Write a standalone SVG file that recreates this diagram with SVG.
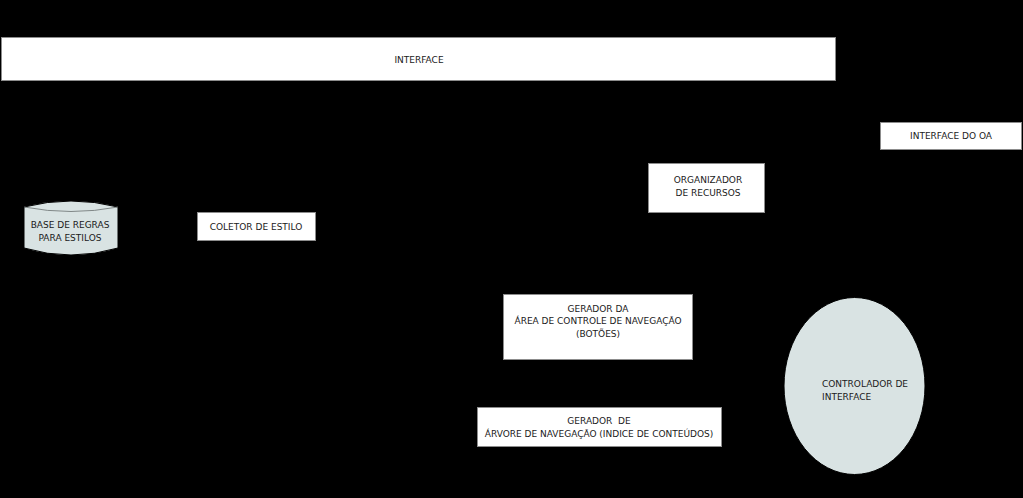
<svg xmlns="http://www.w3.org/2000/svg" width="1023" height="498" viewBox="0 0 1023 498">
<style>
.box{fill:#ffffff;stroke:#8c8c8c;stroke-width:1}
.soft{fill:#d9e3e3;stroke:#000000;stroke-width:1}
text{font-family:"DejaVu Sans","Liberation Sans",sans-serif;font-size:9px;fill:#1a1a1a;text-anchor:middle;white-space:pre}
</style>
<rect width="1023" height="498" fill="#000000"/>
<g id="connectors"></g>
<g id="interface">
<rect class="box" x="1.5" y="37.5" width="834" height="43"/>
<text x="419" y="63">INTERFACE</text>
</g>
<g id="interface-oa">
<rect class="box" x="880.5" y="122.5" width="141" height="27"/>
<text x="951" y="139">INTERFACE DO OA</text>
</g>
<g id="organizador">
<rect class="box" x="648.5" y="163.5" width="116" height="49"/>
<text x="708" y="183">ORGANIZADOR</text>
<text x="708" y="196">DE RECURSOS</text>
</g>
<g id="base-regras">
<path class="soft" d="M24,207 Q71,195 118,207 L118,248 Q71,262 24,248 Z"/>
<path d="M24,207 Q71,216 118,207" fill="none" stroke="#6a7070" stroke-width="0.8"/>
<text x="70" y="228">BASE DE REGRAS</text>
<text x="70" y="241">PARA ESTILOS</text>
</g>
<g id="coletor">
<rect class="box" x="197.5" y="212.5" width="118" height="28"/>
<text x="256" y="230">COLETOR DE ESTILO</text>
</g>
<g id="gerador-botoes">
<rect class="box" x="503.5" y="294.5" width="189" height="65"/>
<text x="598" y="312">GERADOR DA</text>
<text x="598" y="324">ÁREA DE CONTROLE DE NAVEGAÇÃO</text>
<text x="598" y="337">(BOTÕES)</text>
</g>
<g id="gerador-arvore">
<rect class="box" x="477.5" y="407.5" width="244" height="39"/>
<text x="599" y="424" xml:space="preserve">GERADOR  DE</text>
<text x="599" y="437">ÁRVORE DE NAVEGAÇÃO (INDICE DE CONTEÚDOS)</text>
</g>
<g id="controlador">
<ellipse class="soft" cx="854.5" cy="386" rx="70.5" ry="88.5"/>
<text x="822" y="387" style="text-anchor:start">CONTROLADOR DE</text>
<text x="822" y="400" style="text-anchor:start">INTERFACE</text>
</g>
</svg>
